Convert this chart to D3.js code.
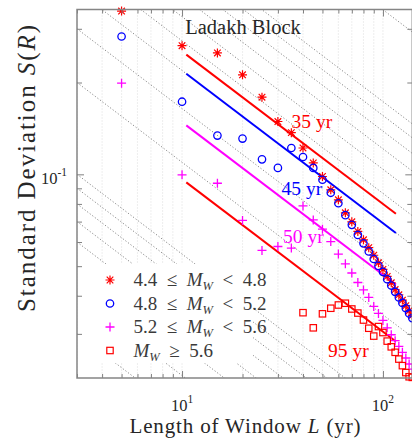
<!DOCTYPE html>
<html>
<head>
<meta charset="utf-8">
<script src="https://cdn.jsdelivr.net/npm/d3@7"></script>
<style>
  html, body { margin: 0; padding: 0; background: #fff; }
  svg { display: block; }
  svg text { font-family: 'Liberation Serif', 'DejaVu Serif', serif; white-space: pre; }
</style>
</head>
<body>
<svg id="chart" width="412" height="441"></svg>
<script>
// Window lengths L (yr)
const windowLengths = [5, 10, 15, 20, 25, 30, 35, 40, 45, 50, 55, 60, 65, 70, 75,
  80, 85, 90, 95, 100, 105, 110, 115, 120, 125, 130, 135, 140];

// Standard deviation S(R) for each magnitude band
const sdBand1 = [0.343, 0.264, 0.250, 0.212, 0.179, 0.149, 0.137, 0.122, 0.109, 0.0984,
  0.0890, 0.0825, 0.0748, 0.0699, 0.0650, 0.0610, 0.0575, 0.0543, 0.0513, 0.0488,
  0.0463, 0.0441, 0.0419, 0.0403, 0.0387, 0.0371, 0.0357, 0.0345];
const sdBand2 = [0.283, 0.173, 0.134, 0.131, 0.112, 0.105, 0.122, 0.114, 0.105, 0.096,
  0.087, 0.0804, 0.0735, 0.0683, 0.0633, 0.0594, 0.0559, 0.0528, 0.0501, 0.0479,
  0.0453, 0.0432, 0.0412, 0.0395, 0.0379, 0.0364, 0.0350, 0.0338];
const sdBand3 = [0.199, 0.0996, 0.0935, 0.0706, 0.0563, 0.0580, 0.0573, 0.0788, 0.0709, 0.0661,
  0.0602, 0.0548, 0.0509, 0.0475, 0.0442, 0.0418, 0.0395, 0.0369, 0.0350, 0.0332,
  0.0314, 0.0298, 0.0285, 0.0273, 0.0261, 0.0250, 0.0239, 0.0230];
const sdBand4 = [null, null, null, null, null, null, null, 0.0352, 0.0314, 0.0349,
  0.0364, 0.0373, 0.0378, 0.0362, 0.0351, 0.0333, 0.0313, 0.0295, 0.0317, 0.0303,
  0.0284, 0.0272, 0.0261, 0.0248, 0.0236, 0.0224, 0.0217, 0.0216];

const bandLabels = ["4.4 ≤ M_W < 4.8", "4.8 ≤ M_W < 5.2", "5.2 ≤ M_W < 5.6", "M_W ≥ 5.6"];
const bandColors = ["#ff0000", "#0000ff", "#ff00ff", "#ff0000"];
const bandMarkers = ["asterisk", "circle", "plus", "square"];

// Fitted S = c / sqrt(L) curves, labelled by recurrence interval
const fitLabels = ["35 yr", "45 yr", "50 yr", "95 yr"];
const fitCoefs = [0.800, 0.692, 0.469, 0.305];
const fitColors = ["#ff0000", "#0000ff", "#ff00ff", "#ff0000"];
const fitRange = [10.5, 116];

// Reference slope -1/2 guides, starting from these S values at the left limit
const guideLevels = [0.02, 0.03, 0.04, 0.05, 0.06, 0.07, 0.08, 0.09,
  0.1, 0.2, 0.3, 0.4, 0.5, 0.6, 0.7, 0.8, 0.9, 1, 2, 3, 4, 5, 6, 7, 8, 9];

// Axis ticks
const xTickValues = [3, 4, 5, 6, 7, 8, 9, 10, 20, 30, 40, 50, 60, 70, 80, 90, 100];
const xMajorTicks = [10, 100];
const yTickValues = [0.03, 0.04, 0.05, 0.06, 0.07, 0.08, 0.09, 0.1, 0.2, 0.3];
const yMajorTicks = [0.1];
const xDomain = [3, 140];
const yDomain = [0.0215, 0.347];

const FONT = "'Liberation Serif', 'DejaVu Serif', serif";
const svg = d3.select("#chart");
const box = { left: 77, right: 412.3, top: 9.5, bottom: 378 };

const x = d3.scaleLog().domain(xDomain).range([box.left, box.right]);
const y = d3.scaleLog().domain(yDomain).range([box.bottom, box.top]);

svg.append("rect").attr("width", 412).attr("height", 441).attr("fill", "#fff");

svg.append("defs").append("clipPath").attr("id", "plotClip")
  .append("rect")
  .attr("x", box.left).attr("y", box.top)
  .attr("width", box.right - box.left).attr("height", box.bottom - box.top);

const plot = svg.append("g").attr("clip-path", "url(#plotClip)");

// faint vertical grid
plot.append("g").selectAll("line").data(xTickValues).join("line")
  .attr("x1", d => x(d)).attr("x2", d => x(d))
  .attr("y1", box.top).attr("y2", box.bottom)
  .attr("stroke", "#d6d6d6").attr("stroke-width", 0.8)
  .attr("stroke-dasharray", "1,2");

// slope -1/2 reference guides
const guideLine = d3.line().x(d => x(d[0])).y(d => y(d[1]));
plot.append("g").selectAll("path").data(guideLevels).join("path")
  .attr("d", s => guideLine([[xDomain[0], s], [xDomain[1], s * Math.sqrt(xDomain[0] / xDomain[1])]]))
  .attr("fill", "none").attr("stroke", "#7a7a7a").attr("stroke-width", 0.9)
  .attr("stroke-dasharray", "1.2,2");

// legend backdrop hides guides underneath
const legendBox = { x: 78, y: 264, w: 175, h: 99 };
svg.append("rect")
  .attr("x", legendBox.x).attr("y", legendBox.y)
  .attr("width", legendBox.w).attr("height", legendBox.h)
  .attr("fill", "#fff");

// fitted curves
const fitG = svg.append("g").attr("clip-path", "url(#plotClip)");
fitCoefs.forEach((c, i) => {
  fitG.append("path")
    .attr("d", guideLine(fitRange.map(L => [L, c / Math.sqrt(L)])))
    .attr("fill", "none").attr("stroke", fitColors[i]).attr("stroke-width", 2);
});

// marker shapes
function drawMarker(g, kind, cx, cy, color) {
  if (kind === "circle") {
    g.append("circle").attr("cx", cx).attr("cy", cy).attr("r", 3.7)
      .attr("fill", "none").attr("stroke", color).attr("stroke-width", 1.3);
  } else if (kind === "square") {
    g.append("rect").attr("x", cx - 3.2).attr("y", cy - 3.2).attr("width", 6.4).attr("height", 6.4)
      .attr("fill", "none").attr("stroke", color).attr("stroke-width", 1.2);
  } else if (kind === "plus") {
    g.append("path").attr("d", `M${cx - 4.5},${cy}H${cx + 4.5}M${cx},${cy - 4.5}V${cy + 4.5}`)
      .attr("fill", "none").attr("stroke", color).attr("stroke-width", 1.3);
  } else {
    const a = 4.5, b = 3.3;
    g.append("path").attr("d",
      `M${cx - a},${cy}H${cx + a}M${cx},${cy - a}V${cy + a}` +
      `M${cx - b},${cy - b}L${cx + b},${cy + b}M${cx - b},${cy + b}L${cx + b},${cy - b}`)
      .attr("fill", "none").attr("stroke", color).attr("stroke-width", 1.2);
  }
}

const seriesList = [sdBand1, sdBand2, sdBand3, sdBand4];
const pointsG = svg.append("g");
seriesList.forEach((vals, i) => {
  const g = pointsG.append("g");
  windowLengths.forEach((L, j) => {
    const v = vals[j];
    if (v == null) return;
    drawMarker(g, bandMarkers[i], x(L), y(v), bandColors[i]);
  });
});

// fit annotations
const fitLabelPos = [[291.5, 128], [281.5, 195], [283, 243], [328, 357]];
fitLabels.forEach((t, i) => {
  svg.append("text").attr("x", fitLabelPos[i][0]).attr("y", fitLabelPos[i][1])
    .attr("font-family", FONT).attr("font-size", 19.5).attr("fill", fitColors[i]).text(t);
});

// axes with inward ticks
function styleAxis(g, majors, majorLen, minorLen, sign) {
  g.select(".domain").remove();
  g.selectAll(".tick line")
    .attr("stroke", "#808080").attr("stroke-width", 1)
    .each(function (d) {
      const len = majors.includes(d) ? majorLen : minorLen;
      const el = d3.select(this);
      if (el.attr("y2") != null && +el.attr("y2") !== 0) el.attr("y2", sign * len);
      else el.attr("x2", sign * len);
    });
  g.selectAll(".tick text").remove();
}
const bottomAxis = svg.append("g").attr("transform", `translate(0,${box.bottom})`)
  .call(d3.axisBottom(x).tickValues(xTickValues).tickSizeOuter(0).tickSizeInner(-4).tickFormat(""));
styleAxis(bottomAxis, xMajorTicks, 7, 4, -1);
const topAxis = svg.append("g").attr("transform", `translate(0,${box.top})`)
  .call(d3.axisTop(x).tickValues(xTickValues).tickSizeOuter(0).tickSizeInner(-4).tickFormat(""));
styleAxis(topAxis, xMajorTicks, 7, 4, 1);
const leftAxis = svg.append("g").attr("transform", `translate(${box.left},0)`)
  .call(d3.axisLeft(y).tickValues(yTickValues).tickSizeOuter(0).tickSizeInner(-5).tickFormat(""));
styleAxis(leftAxis, yMajorTicks, 7, 5, 1);
const rightAxis = svg.append("g").attr("transform", `translate(${box.right},0)`)
  .call(d3.axisRight(y).tickValues(yTickValues).tickSizeOuter(0).tickSizeInner(-5).tickFormat(""));
styleAxis(rightAxis, yMajorTicks, 7, 5, -1);

// frame
svg.append("rect")
  .attr("x", box.left).attr("y", box.top)
  .attr("width", box.right - box.left).attr("height", box.bottom - box.top)
  .attr("fill", "none").attr("stroke", "#858585").attr("stroke-width", 1.5);

// tick labels (powers of ten)
xMajorTicks.forEach(v => {
  const t = svg.append("text").attr("x", x(v)).attr("y", 410.5)
    .attr("font-family", FONT)
    .attr("text-anchor", "middle").attr("font-size", 16.5).attr("fill", "#262626");
  t.append("tspan").text("10");
  t.append("tspan").attr("dy", -8).attr("font-size", 11.5).text(String(Math.round(Math.log10(v))));
});
yMajorTicks.forEach(v => {
  const t = svg.append("text").attr("x", 67).attr("y", y(v) + 10)
    .attr("font-family", FONT)
    .attr("text-anchor", "end").attr("font-size", 16.5).attr("fill", "#262626");
  t.append("tspan").text("10");
  t.append("tspan").attr("dy", -8).attr("font-size", 11.5).text(String(Math.round(Math.log10(v))));
});

// legend entries
const legendRowY = [280, 303.5, 327, 350.5];
bandLabels.forEach((lab, i) => {
  drawMarker(svg, bandMarkers[i], 110, legendRowY[i], bandColors[i]);
  const t = svg.append("text").attr("x", 133.5).attr("y", legendRowY[i] + 6)
    .attr("font-family", FONT)
    .attr("font-size", 19).attr("fill", "#3a3a3a");
  const [pre, post] = lab.split("M_W");
  if (pre) t.append("tspan").text(pre.replace(" ≤ ", "  ≤  "));
  t.append("tspan").attr("font-style", "italic").text("M");
  t.append("tspan").attr("font-style", "italic").attr("font-size", 12.5).attr("dy", 4).text("W");
  t.append("tspan").attr("dy", -4).text(post.replace(" < ", "  <  ").replace(" ≥ ", "  ≥  "));
});

// title and axis labels
svg.append("text").attr("x", 243).attr("y", 34).attr("text-anchor", "middle")
  .attr("font-family", FONT)
  .attr("font-size", 20.5).attr("fill", "#262626").text("Ladakh Block");

const xl = svg.append("text").attr("x", 245).attr("y", 433).attr("text-anchor", "middle")
  .attr("font-family", FONT)
  .attr("font-size", 21).attr("fill", "#262626")
  .attr("textLength", 231).attr("lengthAdjust", "spacing");
xl.append("tspan").text("Length of Window ");
xl.append("tspan").attr("font-style", "italic").text("L");
xl.append("tspan").text(" (yr)");

const yl = svg.append("text").attr("transform", "translate(35,168.5) rotate(-90)")
  .attr("font-family", FONT)
  .attr("text-anchor", "middle").attr("font-size", 25).attr("fill", "#262626")
  .attr("textLength", 287).attr("lengthAdjust", "spacing");
yl.append("tspan").text("Standard Deviation ");
yl.append("tspan").attr("font-style", "italic").text("S");
yl.append("tspan").text("(");
yl.append("tspan").attr("font-style", "italic").text("R");
yl.append("tspan").text(")");
</script>
</body>
</html>
